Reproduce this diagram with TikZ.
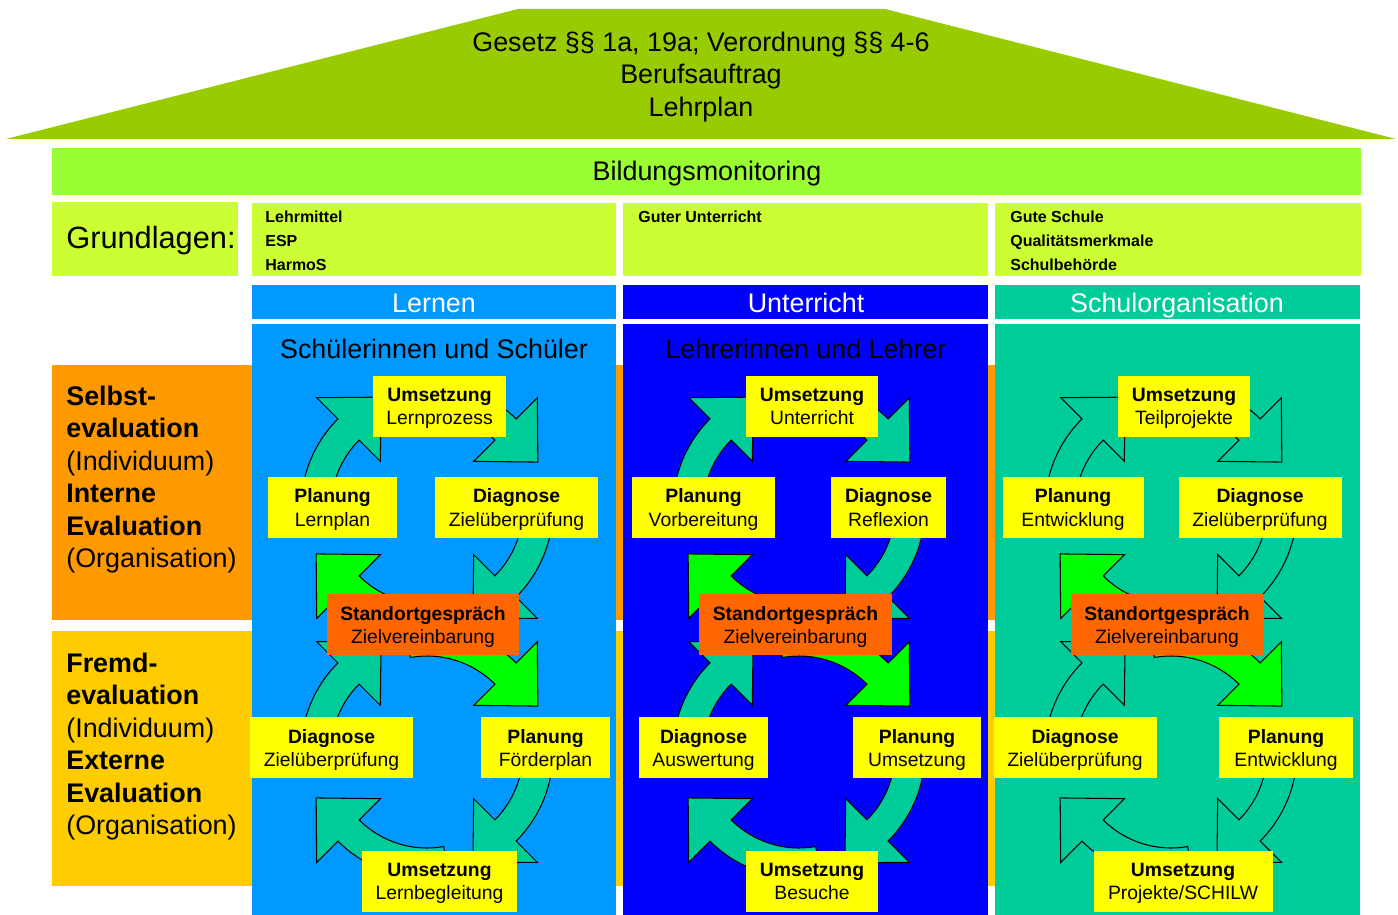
\documentclass[tikz,border=0pt]{standalone}
\usepackage{fontspec}
\setmainfont{Liberation Sans}
\definecolor{dach}{HTML}{99CC00}
\definecolor{monitoring}{HTML}{99FF33}
\definecolor{grund}{HTML}{CCFF33}
\definecolor{lernen}{HTML}{0099FF}
\definecolor{unterricht}{HTML}{0000FF}
\definecolor{schulorg}{HTML}{00CC99}
\definecolor{orangeband}{HTML}{FF9900}
\definecolor{gelbband}{HTML}{FFCC00}
\definecolor{kastengelb}{HTML}{FFFF00}
\definecolor{standort}{HTML}{FF6600}
\definecolor{pfeilteal}{HTML}{00CC99}
\definecolor{pfeilgruen}{HTML}{00FF00}
\newcommand\kastenschrift{\fontsize{11}{13.1}\selectfont}
\newcommand\grossschrift{\fontsize{15.3}{18.5}\selectfont}
\newcommand\kleinschrift{\fontsize{9.1}{13.4}\selectfont\bfseries}
\tikzset{kasten/.style={fill=kastengelb, inner sep=0pt, minimum height=1.22cm, minimum width=#1*0.02cm, text depth=0pt, align=center, font=\kastenschrift},
         pfeil/.style={draw=black, line width=0.6pt, line join=miter},
         gross/.style={inner sep=0pt, font=\grossschrift}}
\newcommand\kreispfeil[3]{%
  \begin{scope}[shift={(#1)}]
   \draw[pfeil,fill=#3] ({#2-55}:126) arc[start angle={#2-55}, end angle=#2, radius=126]
     -- (#2:156) -- ({#2+22.5}:120) -- (#2:66) -- (#2:96)
     arc[start angle=#2, end angle={#2-55}, radius=96] -- cycle;
  \end{scope}}
\newcommand\pfeilkreise{%
  \kreispfeil{427,508}{-135}{pfeilteal}
  \kreispfeil{427,508}{-45}{pfeilteal}
  \kreispfeil{427,508}{45}{pfeilteal}
  \kreispfeil{427,508}{135}{pfeilgruen}
  \kreispfeil{427,752}{-135}{pfeilteal}
  \kreispfeil{427,752}{-45}{pfeilgruen}
  \kreispfeil{427,752}{45}{pfeilteal}
  \kreispfeil{427,752}{135}{pfeilteal}}

\begin{document}
\begin{tikzpicture}[x=0.02cm,y=-0.02cm]
  \useasboundingbox (0,0) rectangle (1398,915);
  \fill[dach] (518,9) -- (885,9) -- (1396,139) -- (6,139) -- cycle;
  \node[gross, align=center] (gesetz) at (701,77) {Gesetz §§ 1a, 19a; Verordnung §§ 4-6\\Berufsauftrag\\Lehrplan};

  \fill[monitoring] (52,148) rectangle (1361,195);
  \node[gross, anchor=base] (bildung) at (707,180.5) {Bildungsmonitoring};

  \fill[grund] (52,202) rectangle (238,276);
  \node[inner sep=0pt, anchor=west, font=\fontsize{17.5}{21}\selectfont] (grundlagen) at (66,241) {Grundlagen:};
  \fill[grund] (252,203) rectangle (616,276);
  \fill[grund] (623,203) rectangle (988,276);
  \fill[grund] (995,203) rectangle (1361,276);
  \node[anchor=north west, inner sep=0pt, align=left, font=\kleinschrift] (grunda) at (265,211) {Lehrmittel\\ESP\\HarmoS};
  \node[anchor=north west, inner sep=0pt, align=left, font=\kleinschrift] (grundb) at (638,211) {Guter Unterricht};
  \node[anchor=north west, inner sep=0pt, align=left, font=\kleinschrift] (grundc) at (1010,211) {Gute Schule\\Qualitätsmerkmale\\Schulbehörde};

  \fill[lernen] (252,285) rectangle (616,319);
  \fill[unterricht] (623,285) rectangle (988,319);
  \fill[schulorg] (995,285) rectangle (1360,319);
  \node[gross, anchor=base, text=white] (lern) at (434,312.5) {Lernen};
  \node[gross, anchor=base, text=white] (unter) at (806,312.5) {Unterricht};
  \node[gross, anchor=base, text=white] (schul) at (1177,312.5) {Schulorganisation};

  \fill[orangeband] (52,365) rectangle (1000,620);
  \fill[gelbband] (52,631) rectangle (1000,886);
  \node[anchor=north west, inner sep=0pt, align=left, font=\grossschrift] (selbst) at (66,385.5) {\textbf{Selbst-}\\\textbf{evaluation}\\(Individuum)\\\textbf{Interne}\\\textbf{Evaluation}\\(Organisation)};
  \node[anchor=north west, inner sep=0pt, align=left, font=\grossschrift] (fremd) at (66,652.5) {\textbf{Fremd-}\\\textbf{evaluation}\\(Individuum)\\\textbf{Externe}\\\textbf{Evaluation}\\(Organisation)};

  \fill[lernen] (252,324) rectangle (616,915);
  \fill[unterricht] (623,324) rectangle (988,915);
  \fill[schulorg] (995,324) rectangle (1360,915);
  \node[gross, anchor=base] (schueler) at (434,358) {Schülerinnen und Schüler};
  \node[gross, anchor=base] (lehrer) at (806,358) {Lehrerinnen und Lehrer};

  \begin{scope}
   \pfeilkreise
   \node[kasten=133] (ua1) at (439.5,406.5) {\textbf{Umsetzung}\\Lernprozess};
   \node[kasten=129] (pa1) at (332.5,507.5) {\textbf{Planung}\\Lernplan};
   \node[kasten=163] (da1) at (516.5,507.5) {\textbf{Diagnose}\\Zielüberprüfung};
   \node[kasten=192, fill=standort] (sa) at (423,624.5) {\textbf{Standortgespräch}\\Zielvereinbarung};
   \node[kasten=163] (da2) at (331.5,747.5) {\textbf{Diagnose}\\Zielüberprüfung};
   \node[kasten=129] (pa2) at (545.5,747.5) {\textbf{Planung}\\Förderplan};
   \node[kasten=155] (ua2) at (439.5,881) {\textbf{Umsetzung}\\Lernbegleitung};
  \end{scope}
  \begin{scope}[shift={(372,0)}]
   \pfeilkreise
   \node[kasten=132] (ub1) at (440,406.5) {\textbf{Umsetzung}\\Unterricht};
   \node[kasten=143] (pb1) at (331.5,507.5) {\textbf{Planung}\\Vorbereitung};
   \node[kasten=115] (db1) at (516.5,507.5) {\textbf{Diagnose}\\Reflexion};
   \node[kasten=193, fill=standort] (sb) at (423.5,624.5) {\textbf{Standortgespräch}\\Zielvereinbarung};
   \node[kasten=129] (db2) at (331.5,747.5) {\textbf{Diagnose}\\Auswertung};
   \node[kasten=128] (pb2) at (545,747.5) {\textbf{Planung}\\Umsetzung};
   \node[kasten=132] (ub2) at (440,881) {\textbf{Umsetzung}\\Besuche};
  \end{scope}
  \begin{scope}[shift={(744,0)}]
   \pfeilkreise
   \node[kasten=132] (uc1) at (440,406.5) {\textbf{Umsetzung}\\Teilprojekte};
   \node[kasten=141] (pc1) at (329,507.5) {\textbf{Planung}\\Entwicklung};
   \node[kasten=163] (dc1) at (516,507.5) {\textbf{Diagnose}\\Zielüberprüfung};
   \node[kasten=193, fill=standort] (sc) at (423,624.5) {\textbf{Standortgespräch}\\Zielvereinbarung};
   \node[kasten=163] (dc2) at (331,747.5) {\textbf{Diagnose}\\Zielüberprüfung};
   \node[kasten=134] (pc2) at (542,747.5) {\textbf{Planung}\\Entwicklung};
   \node[kasten=179] (uc2) at (439,881.5) {\textbf{Umsetzung}\\Projekte/SCHILW};
  \end{scope}
\end{tikzpicture}
\end{document}
